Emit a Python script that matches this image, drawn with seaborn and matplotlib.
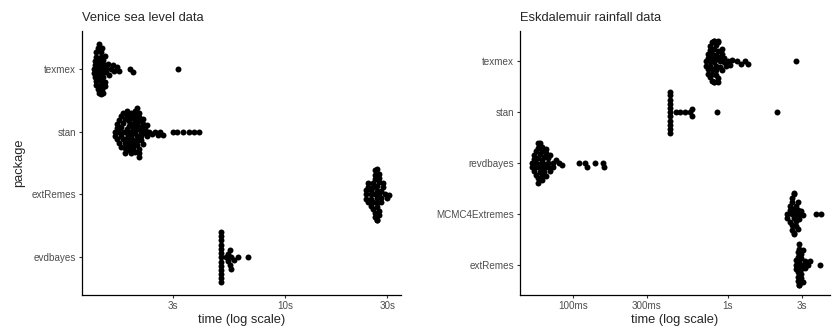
import numpy as np
import pandas as pd
import matplotlib
matplotlib.use('Agg')
import matplotlib.pyplot as plt
import seaborn as sns

# Benchmark times in seconds, read off the picture as value / count pairs
# --- Venice sea level data ---
venice_order = ['texmex', 'stan', 'extRemes', 'evdbayes']

v_texmex_t = [1.28, 1.30, 1.32, 1.34, 1.36, 1.38, 1.40, 1.42, 1.44, 1.46, 1.49,
              1.51, 1.54, 1.57, 1.60, 1.64, 1.68, 1.90, 1.95, 3.17]
v_texmex_n = [2, 3, 4, 4, 5, 5, 4, 4, 3, 2, 1, 1, 1, 1, 1, 1, 1, 1, 1, 1]

v_stan_t = [1.61, 1.65, 1.68, 1.72, 1.76, 1.79, 1.83, 1.87, 1.91, 1.95, 1.99, 2.04, 2.08,
            2.13, 2.17, 2.22, 2.27, 2.32, 2.40, 2.48, 2.55, 2.62, 2.70,
            3.00, 3.13, 3.34, 3.56, 3.76, 3.97]
v_stan_n = [2, 3, 3, 4, 4, 4, 5, 5, 5, 5, 5, 6, 6, 4, 3, 2, 2, 1, 1, 1, 1, 1, 1,
            1, 1, 1, 1, 1, 1]

v_extremes_t = [23.9, 24.5, 25.1, 25.8, 26.3, 26.9, 27.5, 28.1, 28.7, 29.4, 30.0, 30.7]
v_extremes_n = [3, 3, 4, 4, 6, 8, 6, 3, 2, 1, 1, 1]

v_evdbayes_t = [5.03, 5.30, 5.42, 5.52, 5.62, 5.80, 6.05, 6.72]
v_evdbayes_n = [13, 1, 2, 2, 2, 1, 1, 1]

# --- Eskdalemuir rainfall data ---
eskdale_order = ['texmex', 'stan', 'revdbayes', 'MCMC4Extremes', 'extRemes']

e_texmex_t = [0.722, 0.744, 0.767, 0.790, 0.813, 0.838, 0.863, 0.889, 0.915, 0.943,
              0.971, 1.00, 1.03, 1.06, 1.15, 1.21, 1.28, 1.34, 2.73]
e_texmex_n = [2, 4, 5, 6, 6, 6, 5, 3, 3, 2, 1, 1, 1, 1, 1, 1, 1, 1, 1]

e_stan_t = [0.425, 0.46, 0.49, 0.53, 0.57, 0.59, 0.85, 2.06]
e_stan_n = [11, 1, 1, 1, 1, 2, 1, 1]

e_revdbayes_t = [0.0546, 0.0563, 0.0580, 0.0596, 0.0615, 0.0633, 0.0653, 0.0672, 0.0692,
                 0.0713, 0.0745, 0.0776, 0.0810, 0.0851,
                 0.109, 0.120, 0.124, 0.140, 0.157, 0.160]
e_revdbayes_n = [2, 3, 4, 5, 5, 5, 4, 3, 3, 2, 2, 1, 1, 1, 1, 1, 1, 1, 1, 1]

e_mcmc_t = [2.42, 2.50, 2.57, 2.65, 2.73, 2.81, 2.89, 2.98, 3.07, 3.72, 4.00]
e_mcmc_n = [2, 3, 5, 6, 4, 3, 2, 1, 1, 1, 1]

e_extremes_t = [2.73, 2.81, 2.89, 2.98, 3.07, 3.16, 3.26, 3.36, 3.95]
e_extremes_n = [3, 5, 6, 5, 3, 2, 1, 1, 1]

venice_ticks = [3, 10, 30]
venice_labels = ['3s', '10s', '30s']
eskdale_ticks = [0.1, 0.3, 1, 3]
eskdale_labels = ['100ms', '300ms', '1s', '3s']


def expand(name, times, counts):
    return pd.DataFrame({'package': name, 'time': np.repeat(times, counts)})


venice = pd.concat([
    expand('texmex', v_texmex_t, v_texmex_n),
    expand('stan', v_stan_t, v_stan_n),
    expand('extRemes', v_extremes_t, v_extremes_n),
    expand('evdbayes', v_evdbayes_t, v_evdbayes_n),
])
eskdale = pd.concat([
    expand('texmex', e_texmex_t, e_texmex_n),
    expand('stan', e_stan_t, e_stan_n),
    expand('revdbayes', e_revdbayes_t, e_revdbayes_n),
    expand('MCMC4Extremes', e_mcmc_t, e_mcmc_n),
    expand('extRemes', e_extremes_t, e_extremes_n),
])

sns.set_theme(style='white')
plt.rcParams['font.family'] = ['Liberation Sans', 'DejaVu Sans']

fig = plt.figure(figsize=(8.32, 3.31), dpi=100)
ax1 = fig.add_axes([82 / 832, 36 / 331, 319 / 832, 264 / 331])
ax2 = fig.add_axes([520 / 832, 36 / 331, 310 / 832, 264 / 331])

panels = [
    (ax1, venice, venice_order, 'Venice sea level data', venice_ticks, venice_labels, (1.13, 34.8), 'package'),
    (ax2, eskdale, eskdale_order, 'Eskdalemuir rainfall data', eskdale_ticks, eskdale_labels, (0.0457, 4.55), ''),
]

for ax, df, order, title, ticks, labels, xlim, ylab in panels:
    # swarm is packed with a small dot, then drawn with a bigger one so blobs look solid
    sns.swarmplot(data=df, x='time', y='package', order=order, orient='h',
                  log_scale=True, color='black', size=2.9, linewidth=0, ax=ax,
                  warn_thresh=1)
    ax.set_xlim(*xlim)
    ax.set_ylim(len(order) - 1 + 0.6, -0.6)
    ax.set_xticks(ticks)
    ax.set_xticklabels(labels)
    ax.xaxis.set_minor_locator(matplotlib.ticker.NullLocator())
    ax.set_title(title, loc='left', fontsize=9.3, pad=7)
    ax.set_xlabel('time (log scale)', fontsize=9.3, labelpad=2)
    ax.set_ylabel(ylab, fontsize=9.3, labelpad=4)
    sns.despine(ax=ax)
    for side in ['left', 'bottom']:
        ax.spines[side].set_color('black')
        ax.spines[side].set_linewidth(0.9)
    ax.tick_params(axis='both', which='major', length=2.5, width=0.8, color='#333333',
                   labelsize=7.1, labelcolor='#4D4D4D', pad=2, left=True, bottom=True)
    ax.grid(False)

# compute the swarm positions once, then freeze them and enlarge the dots
fig.canvas.draw()
for ax in (ax1, ax2):
    for coll in ax.collections:
        coll.__dict__.pop('draw', None)
        coll.set_sizes([4.3 ** 2])

fig.savefig('out.png', dpi=100)
